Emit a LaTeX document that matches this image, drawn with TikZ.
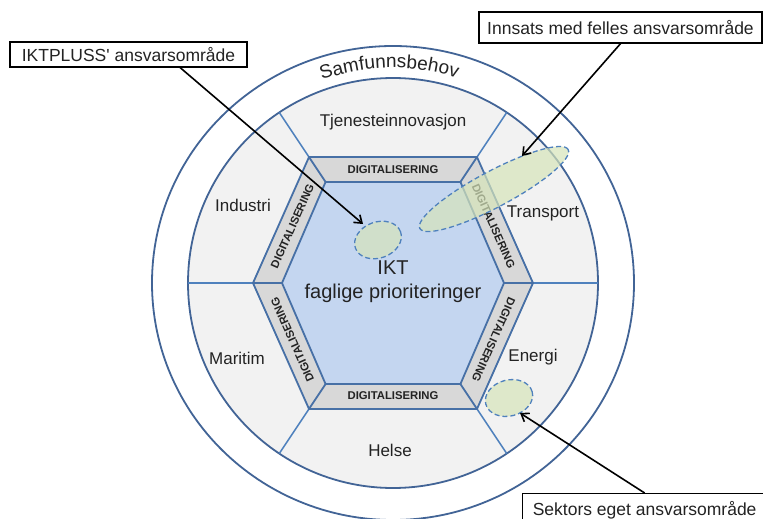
\documentclass[tikz,border=0pt]{standalone}
\usepackage{fontspec}
\setmainfont{Liberation Sans}
\usetikzlibrary{shapes.geometric,arrows.meta,decorations.text,calc}
\definecolor{ringblue}{RGB}{66,100,150}
\definecolor{lineblue}{RGB}{79,129,189}
\definecolor{bandgray}{RGB}{216,216,216}
\definecolor{hexblue}{RGB}{196,214,240}
\definecolor{sectgray}{RGB}{242,242,242}
\definecolor{ellgreen}{RGB}{214,228,186}
\definecolor{txt}{RGB}{35,35,35}
\tikzset{
 ring/.style={draw=ringblue, line width=1.8pt},
 sectline/.style={draw=lineblue, line width=1.5pt},
 hexline/.style={draw=ringblue!60!lineblue, line width=1.8pt, line join=miter},
 bandtext/.style={font=\bfseries\fontsize{11.3}{12}\selectfont, text=txt, inner sep=0pt},
 sectlabel/.style={font=\fontsize{17}{20}\selectfont, text=txt},
 callout/.style={draw=black, line width=1.3pt, fill=white, font=\fontsize{17.5}{20}\selectfont, text=txt, inner sep=0pt},
 pointer/.style={draw=black, line width=1.6pt, -{Straight Barb[length=7pt,width=10pt]}},
 area/.style={ellipse, draw=lineblue, line width=1.3pt, dash pattern=on 5pt off 3pt, fill=ellgreen, fill opacity=0.7, inner sep=0pt},
}
\begin{document}
\begin{tikzpicture}[x=1pt,y=1pt]
\useasboundingbox (0,0) rectangle (763,-519);
\clip (0,0) rectangle (763,-519);
\coordinate (C) at (393,-283);

% circles
\draw[ring, fill=white] (C) ellipse [x radius=241, y radius=237];
\draw[ring, fill=sectgray] (C) circle [radius=205];

% hexagon vertices
\foreach \n/\a/\r in {1/0/140, 2/56.3/151.4, 3/123.7/151.4, 4/180/140, 5/236.3/151.4, 6/303.7/151.4}
  \coordinate (o\n) at ($(C)+(\a:\r)$);
\foreach \n/\a/\r in {1/0/111, 2/56.3/121.5, 3/123.7/121.5, 4/180/111, 5/236.3/121.5, 6/303.7/121.5}
  \coordinate (i\n) at ($(C)+(\a:\r)$);

% sector dividers
\foreach \n/\a in {1/0, 2/56.3, 3/123.7, 4/180, 5/236.3, 6/303.7}
  \draw[sectline] (o\n) -- ($(C)+(\a:205)$);

% hexagon band and core
\filldraw[hexline, fill=bandgray] (o1)--(o2)--(o3)--(o4)--(o5)--(o6)--cycle;
\filldraw[hexline, fill=hexblue] (i1)--(i2)--(i3)--(i4)--(i5)--(i6)--cycle;
\foreach \n in {1,...,6} \draw[hexline] (o\n) -- (i\n);

% band texts
\node[bandtext] (d1) at ($(C)+(0,113)$) {DIGITALISERING};
\node[bandtext] (d4) at ($(C)+(0,-113)$) {DIGITALISERING};
\node[bandtext, rotate=66] (d3) at ($(C)+(-100.6,56.8)$) {DIGITALISERING};
\node[bandtext, rotate=-66] (d2) at ($(C)+(100.6,56.8)$) {DIGITALISERING};
\node[bandtext, rotate=114] (d5) at ($(C)+(-100.6,-56.8)$) {DIGITALISERING};
\node[bandtext, rotate=-114] (d6) at ($(C)+(100.6,-56.8)$) {DIGITALISERING};

% ring text
\path[decorate, decoration={text along path, text align=center,
  text={|\fontsize{19}{19}\selectfont\color{txt}|Samfunnsbehov}}]
  ($(C)+(161:215)$) arc[start angle=161, end angle=21, radius=215];

% sector labels
\node[sectlabel] (tj) at (393,-122) {Tjenesteinnovasjon};
\node[sectlabel] (ind) at (243,-205) {Industri};
\node[sectlabel] (tra) at (543,-213) {Transport};
\node[sectlabel] (mar) at (237,-358) {Maritim};
\node[sectlabel] (ene) at (533,-357) {Energi};
\node[sectlabel] (hel) at (390,-450) {Helse};

% core text
\node[align=center, text=txt, font=\fontsize{20}{24}\selectfont] (core) at (393,-282) {IKT\\faglige prioriteringer};

% areas
\node[area, minimum width=48, minimum height=36, rotate=20] (e1) at (378,-240) {};
\node[area, minimum width=168, minimum height=36, rotate=28] (e2) at (494,-189) {};
\node[area, minimum width=48, minimum height=36, rotate=15] (e3) at (509,-398) {};

% callouts
\node[callout, minimum width=237, minimum height=25] (kb1) at (128.5,-54.5) {IKTPLUSS\textquotesingle\ ansvarsområde};
\node[callout, minimum width=283, minimum height=31] (kb2) at (620.5,-27.5) {Innsats med felles ansvarsområde};
\node[callout, minimum width=244, minimum height=34, anchor=north west] (kb3) at (522,-493) {Sektors eget ansvarsområde};

\coordinate (t1) at (363,-224);
\coordinate (t2) at (522,-156);
\coordinate (t3) at (520,-413);
\draw[pointer] ($(kb1.south west)!0.717!(kb1.south east)$) -- (t1);
\draw[pointer] (kb2.south) -- (t2);
\draw[pointer] (kb3.north) -- (t3);
\end{tikzpicture}
\end{document}
